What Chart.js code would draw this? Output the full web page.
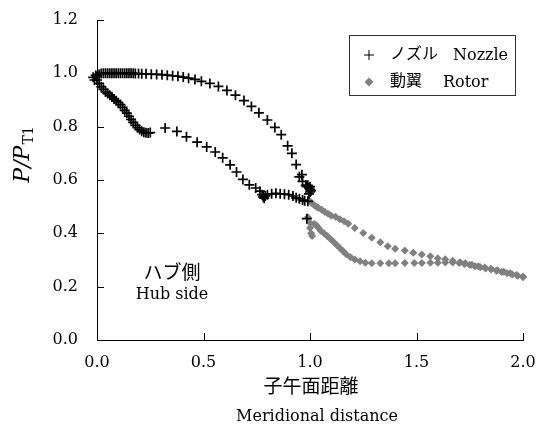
<!DOCTYPE html>
<html>
<head>
<meta charset="utf-8">
<script src="https://cdn.jsdelivr.net/npm/chart.js@4.4.0/dist/chart.umd.min.js"></script>
<style>
  body { margin: 0; background: #fff; }
  canvas { display: block; }
</style>
</head>
<body>
<canvas id="chart" width="539" height="431"></canvas>
<script>
// tick values
var xTicks = [0, 0.5, 1.0, 1.5, 2.0];
var yTicks = [0, 0.2, 0.4, 0.6, 0.8, 1.0, 1.2];

// nozzle: pressure side, suction side, trailing edge
var nozzleX = [
  -0.018, -0.012, -0.006, 0.000, 0.010, 0.020, 0.030, 0.040, 0.050, 0.060, 0.070, 0.080, 0.090, 0.100,
  0.110, 0.120, 0.130, 0.140, 0.150, 0.160, 0.170, 0.180, 0.195, 0.210, 0.230, 0.255, 0.280,
  0.305, 0.330, 0.355, 0.380, 0.405, 0.430, 0.460, 0.490, 0.530, 0.570, 0.610, 0.650, 0.690,
  0.725, 0.760, 0.800, 0.835, 0.865, 0.895, 0.915, 0.935, 0.950, 0.965, 0.980,
  0.000, 0.010, 0.020, 0.030, 0.040, 0.050, 0.060, 0.070, 0.080, 0.090, 0.100, 0.110, 0.120,
  0.130, 0.140, 0.150, 0.160, 0.170, 0.180, 0.190, 0.200, 0.210, 0.220, 0.230, 0.240, 0.250,
  0.320, 0.375, 0.420, 0.470, 0.515, 0.555, 0.590, 0.625, 0.655, 0.685, 0.715, 0.745, 0.765,
  0.775, 0.780, 0.785, 0.790, 0.800, 0.820, 0.840, 0.860, 0.880, 0.900, 0.920, 0.935, 0.950,
  0.965, 0.975, 0.990,
  0.962, 0.985, 0.990, 0.995, 1.000, 1.000, 1.000, 1.005, 0.995, 0.985
];
var nozzleY = [
  0.985, 0.975, 0.992, 0.988, 0.996, 0.999, 1.000, 1.000, 1.000, 1.000, 1.000, 1.000, 1.000, 1.000,
  1.000, 1.000, 1.000, 1.000, 1.000, 1.000, 1.000, 0.999, 0.999, 0.998, 0.998, 0.997, 0.996,
  0.995, 0.993, 0.991, 0.989, 0.986, 0.982, 0.977, 0.970, 0.962, 0.951, 0.936, 0.918, 0.898,
  0.876, 0.852, 0.825, 0.797, 0.770, 0.728, 0.700, 0.658, 0.612, 0.595, 0.580,
  0.975, 0.962, 0.950, 0.940, 0.930, 0.924, 0.918, 0.912, 0.904, 0.897, 0.891, 0.883, 0.872,
  0.861, 0.851, 0.839, 0.827, 0.816, 0.805, 0.796, 0.789, 0.783, 0.779, 0.777, 0.776, 0.778,
  0.795, 0.782, 0.762, 0.742, 0.724, 0.705, 0.683, 0.657, 0.630, 0.602, 0.582, 0.570, 0.558,
  0.545, 0.537, 0.532, 0.540, 0.545, 0.548, 0.550, 0.548, 0.547, 0.545, 0.540, 0.533, 0.530,
  0.525, 0.522, 0.520,
  0.620, 0.575, 0.580, 0.570, 0.575, 0.565, 0.555, 0.560, 0.548, 0.455
];

// rotor: upper branch, lower branch
var rotorX = [
  1.000, 1.010, 1.020, 1.030, 1.040, 1.055, 1.070, 1.085, 1.100, 1.120, 1.140, 1.160, 1.180,
  1.210, 1.250, 1.290, 1.330, 1.365, 1.400, 1.445, 1.485, 1.525, 1.565, 1.600, 1.635, 1.670,
  1.705, 1.730, 1.760, 1.790, 1.820, 1.850, 1.880, 1.910, 1.940, 1.970, 2.000,
  0.990, 1.000, 1.000, 1.005, 1.010, 1.020, 1.030, 1.040, 1.050, 1.065, 1.080, 1.095, 1.110,
  1.125, 1.140, 1.155, 1.170, 1.190, 1.210, 1.235, 1.260, 1.290, 1.330, 1.370, 1.400, 1.445,
  1.490, 1.525, 1.565, 1.600, 1.635, 1.670, 1.700, 1.725, 1.750, 1.775, 1.800, 1.825, 1.850,
  1.875, 1.900, 1.925, 1.950, 1.975, 2.000
];
var rotorY = [
  0.520, 0.512, 0.505, 0.500, 0.495, 0.488, 0.480, 0.473, 0.466, 0.462, 0.453, 0.445, 0.436,
  0.420, 0.401, 0.383, 0.367, 0.352, 0.342, 0.336, 0.327, 0.321, 0.314, 0.307, 0.303, 0.297,
  0.292, 0.288, 0.282, 0.277, 0.272, 0.267, 0.262, 0.256, 0.250, 0.244, 0.238,
  0.460, 0.440, 0.420, 0.400, 0.390, 0.435, 0.430, 0.420, 0.410, 0.400, 0.390, 0.380, 0.368,
  0.356, 0.345, 0.334, 0.322, 0.310, 0.302, 0.295, 0.290, 0.288, 0.288, 0.288, 0.288, 0.289,
  0.289, 0.289, 0.290, 0.290, 0.291, 0.291, 0.289, 0.285, 0.281, 0.277, 0.273, 0.268, 0.264,
  0.260, 0.255, 0.250, 0.246, 0.241, 0.235
];

var serif = '"DejaVu Serif", "Noto Sans CJK JP", serif';

function toPoints(xs, ys) {
  var pts = [];
  for (var i = 0; i < xs.length; i++) pts.push({ x: xs[i], y: ys[i] });
  return pts;
}

// inside tick marks, axis titles, note and legend box
var extras = {
  id: 'extras',
  afterDraw: function (chart) {
    var ctx = chart.ctx;
    var area = chart.chartArea;
    var xs = chart.scales.x, ys = chart.scales.y;

    ctx.save();
    ctx.strokeStyle = '#000';
    ctx.lineWidth = 1;
    ctx.beginPath();
    yTicks.forEach(function (v) {
      var py = Math.round(ys.getPixelForValue(v)) + 0.5;
      ctx.moveTo(area.left, py);
      ctx.lineTo(area.left + 7, py);
    });
    xTicks.forEach(function (v) {
      var px = Math.round(xs.getPixelForValue(v)) + 0.5;
      ctx.moveTo(px, area.bottom);
      ctx.lineTo(px, area.bottom - 7);
    });
    ctx.stroke();

    ctx.fillStyle = '#000';
    ctx.textBaseline = 'middle';
    ctx.textAlign = 'center';

    // x title
    ctx.font = '19px ' + serif;
    ctx.fillText('子午面距離', 311, 388);
    ctx.font = '16px ' + serif;
    ctx.fillText('Meridional distance', 317, 417);

    // hub side note
    ctx.font = '19px ' + serif;
    ctx.fillText('ハブ側', 172, 274);
    ctx.font = '16px ' + serif;
    ctx.fillText('Hub side', 172, 295);

    // y title P/P_T1
    ctx.save();
    ctx.translate(22, 155);
    ctx.rotate(-Math.PI / 2);
    ctx.textAlign = 'left';
    ctx.textBaseline = 'alphabetic';
    ctx.font = 'italic 22px ' + serif;
    var main = 'P/P';
    var wMain = ctx.measureText(main).width;
    ctx.font = '14px ' + serif;
    var wSub = ctx.measureText('T1').width;
    var start = -(wMain + wSub) / 2;
    ctx.font = 'italic 22px ' + serif;
    ctx.fillText(main, start, 7);
    ctx.font = '14px ' + serif;
    ctx.fillText('T1', start + wMain + 1, 11);
    ctx.restore();

    // legend
    ctx.strokeStyle = '#333';
    ctx.strokeRect(349.5, 35.5, 166, 60);
    ctx.strokeStyle = '#000';
    Chart.helpers.drawPoint(ctx, { pointStyle: 'cross', radius: 5, borderWidth: 2 }, 369, 55);
    ctx.fillStyle = '#808080';
    ctx.strokeStyle = '#808080';
    Chart.helpers.drawPoint(ctx, { pointStyle: 'rectRot', radius: 4.5, borderWidth: 0 }, 369, 82);
    ctx.fillStyle = '#000';
    ctx.textAlign = 'left';
    ctx.textBaseline = 'middle';
    ctx.font = '16px ' + serif;
    ctx.fillText('ノズル', 390, 55);
    ctx.fillText('Nozzle', 453, 56);
    ctx.fillText('動翼', 390, 82);
    ctx.fillText('Rotor', 443, 83);
    ctx.restore();
  }
};

new Chart('chart', {
  type: 'scatter',
  data: {
    datasets: [{
      label: 'ノズル Nozzle',
      data: toPoints(nozzleX, nozzleY),
      pointStyle: 'cross',
      pointRadius: 5,
      pointHoverRadius: 5,
      borderWidth: 1.7,
      borderColor: '#000',
      backgroundColor: '#000',
      clip: false
    }, {
      label: '動翼 Rotor',
      data: toPoints(rotorX, rotorY),
      pointStyle: 'rectRot',
      pointRadius: 4,
      pointHoverRadius: 4,
      borderWidth: 0,
      borderColor: '#808080',
      backgroundColor: '#808080',
      clip: false
    }]
  },
  options: {
    responsive: false,
    animation: false,
    events: [],
    layout: { padding: { left: 0, top: 20, right: 16, bottom: 0 } },
    plugins: {
      legend: { display: false },
      tooltip: { enabled: false }
    },
    scales: {
      x: {
        type: 'linear',
        min: 0,
        max: 2,
        afterBuildTicks: function (s) { s.ticks = xTicks.map(function (v) { return { value: v }; }); },
        afterFit: function (s) {
          s.height = 91;
          s.paddingLeft = 0;
          s.paddingRight = 0;
        },
        grid: { display: true, drawOnChartArea: false, drawTicks: false },
        border: { display: true, color: '#000', width: 1 },
        ticks: {
          padding: 13,
          color: '#000',
          font: { family: serif, size: 16 },
          callback: function (v) { return Number(v).toFixed(1); }
        }
      },
      y: {
        type: 'linear',
        min: 0,
        max: 1.2,
        afterBuildTicks: function (s) { s.ticks = yTicks.map(function (v) { return { value: v }; }); },
        afterFit: function (s) {
          s.width = 97;
          s.paddingTop = 0;
          s.paddingBottom = 0;
        },
        grid: { display: true, drawOnChartArea: false, drawTicks: false },
        border: { display: true, color: '#000', width: 1 },
        ticks: {
          padding: 19,
          color: '#000',
          font: { family: serif, size: 16 },
          callback: function (v) { return Number(v).toFixed(1); }
        }
      }
    }
  },
  plugins: [extras]
});
</script>
</body>
</html>
